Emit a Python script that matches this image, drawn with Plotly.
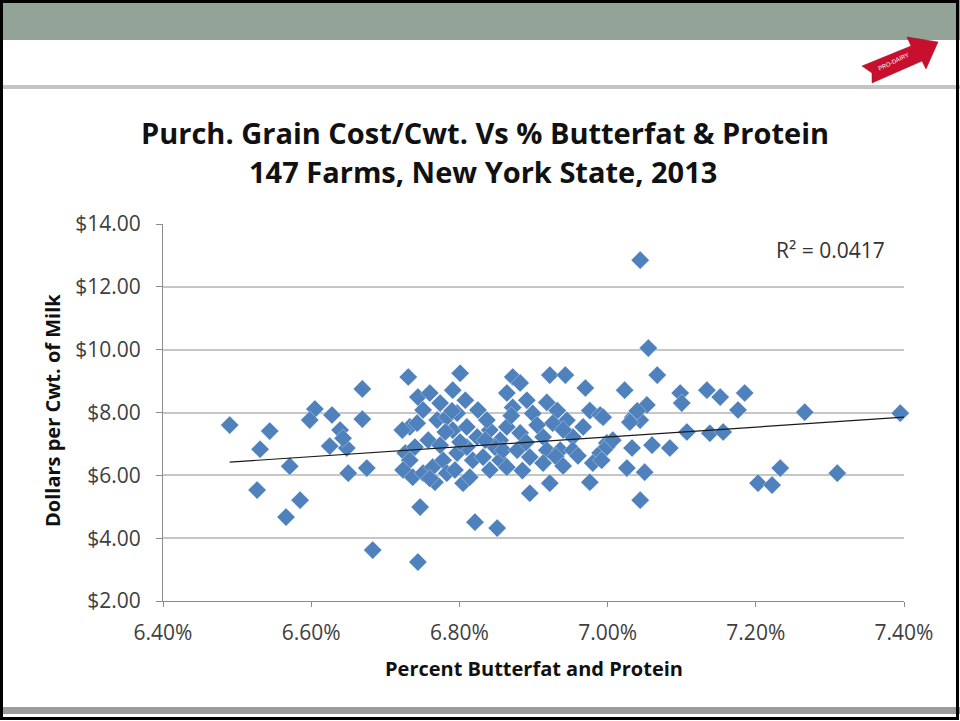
import plotly.graph_objects as go

# ---------------- data ----------------
butterfat_protein_pct = [
    # below 6.72 %
    6.490, 6.544, 6.531, 6.571, 6.527, 6.585, 6.566, 6.605, 6.598, 6.628,
    6.639, 6.625, 6.648, 6.643, 6.650, 6.675, 6.669, 6.669, 6.683,
    # 6.72 - 6.86 %
    6.731, 6.801, 6.791, 6.744, 6.760, 6.774, 6.751, 6.733, 6.723, 6.743,
    6.770, 6.783, 6.797, 6.791, 6.810, 6.824, 6.841, 6.855, 6.727, 6.733,
    6.724, 6.737, 6.751, 6.764, 6.778, 6.783, 6.797, 6.810, 6.818, 6.832,
    6.841, 6.805, 6.747, 6.744, 6.821, 6.851,
    6.758, 6.774, 6.740, 6.808, 6.825, 6.837, 6.794, 6.767, 6.814, 6.855,
    6.848, 6.835, 6.781, 6.801, 6.760, 6.790,
    # 6.86 - 7.00 %
    6.872, 6.882, 6.922, 6.943, 6.970, 6.864, 6.891, 6.918, 6.872, 6.899,
    6.932, 6.945, 6.926, 6.976, 6.990, 6.967, 6.864, 6.882, 6.913, 6.953,
    6.859, 6.878, 6.895, 6.918, 6.936, 6.953, 6.864, 6.913, 6.990, 6.980,
    6.999, 6.895, 6.922, 6.976,
    6.905, 6.940, 6.870, 6.890, 6.930, 6.960, 6.885, 6.940,
    # 7.00 - 7.10 %
    7.044, 7.055, 7.067, 7.023, 7.098, 7.100, 6.994, 7.034, 7.053, 7.044,
    7.030, 7.107, 6.999, 7.007, 7.033, 7.060, 7.084, 6.992, 7.026, 7.050,
    7.044, 7.040,
    # above 7.10 %
    7.134, 7.152, 7.185, 7.176, 7.266, 7.395, 7.138, 7.156, 7.233, 7.203,
    7.222, 7.310,
]

grain_cost_per_cwt = [
    7.60, 7.41, 6.83, 6.29, 5.53, 5.21, 4.67, 8.11, 7.76, 7.92,
    7.44, 6.93, 6.87, 7.18, 6.07, 6.23, 8.75, 7.79, 3.62,
    9.13, 9.25, 8.71, 8.49, 8.62, 8.30, 8.08, 7.54, 7.44, 7.66,
    7.76, 7.85, 7.98, 7.44, 7.54, 7.22, 7.44, 7.12, 6.71, 6.48,
    6.17, 5.94, 6.07, 6.26, 6.48, 6.07, 6.71, 6.90, 6.48, 6.58,
    6.17, 5.75, 4.99, 3.24, 4.51, 4.32,
    7.12, 6.96, 6.90, 8.39, 8.08, 7.76, 6.17, 5.78, 5.94, 6.48,
    6.90, 7.12, 7.38, 7.06, 5.90, 8.05,
    9.13, 8.94, 9.19, 9.19, 8.78, 8.62, 8.39, 8.32, 8.16, 7.97,
    8.06, 7.75, 7.66, 8.06, 7.92, 7.54, 7.54, 7.35, 7.22, 7.22,
    6.80, 6.80, 6.58, 6.80, 6.80, 6.80, 6.26, 6.39, 6.71, 6.39,
    7.03, 5.43, 5.75, 5.78,
    7.60, 7.45, 7.90, 7.05, 6.60, 6.62, 6.15, 6.30,
    12.85, 10.05, 9.19, 8.71, 8.62, 8.30, 7.85, 7.85, 8.24, 7.76,
    7.69, 7.38, 6.90, 7.12, 6.87, 6.96, 6.87, 6.48, 6.23, 6.10,
    5.21, 8.05,
    8.71, 8.49, 8.62, 8.08, 8.01, 7.98, 7.34, 7.38, 6.23, 5.75,
    5.69, 6.07,
]

# linear trend line end points as drawn in the reference
trend_x = [6.49, 7.40]
trend_y = [6.42, 7.85]

x_tick_values = [6.40, 6.60, 6.80, 7.00, 7.20, 7.40]
x_tick_labels = ["6.40%", "6.60%", "6.80%", "7.00%", "7.20%", "7.40%"]
y_tick_values = [2, 4, 6, 8, 10, 12, 14]
y_tick_labels = ["$2.00", "$4.00", "$6.00", "$8.00", "$10.00", "$12.00", "$14.00"]

title_lines = ["Purch. Grain Cost/Cwt. Vs % Butterfat & Protein",
               "147 Farms, New York State, 2013"]
x_title = "Percent Butterfat and Protein"
y_title = "Dollars per Cwt. of Milk"
r2_text = "R² = 0.0417"

# ---------------- layout helpers (pixel -> paper) ----------------
W, H = 960, 721
PL, PR, PT, PB = 163, 904, 224, 601
FONT = "Open Sans"


def px(x):
    return (x - PL) / (PR - PL)


def py(y):
    return (PB - y) / (PB - PT)


fig = go.Figure()

fig.add_trace(go.Scatter(
    x=butterfat_protein_pct, y=grain_cost_per_cwt, mode="markers",
    marker=dict(symbol="diamond", size=14, color="#4F81BD",
                line=dict(width=0.6, color="rgba(255,255,255,0.55)")),
    cliponaxis=False, showlegend=False, hoverinfo="x+y"))

fig.add_trace(go.Scatter(
    x=trend_x, y=trend_y, mode="lines",
    line=dict(color="#1a1a1a", width=1.2),
    cliponaxis=False, showlegend=False, hoverinfo="skip"))

shapes = []
# top grey-green band
shapes.append(dict(type="rect", xref="paper", yref="paper",
                   x0=px(0), x1=px(W), y0=py(0), y1=py(40),
                   fillcolor="#93A398", line=dict(width=0), layer="below"))
# thin grey rule under the logo
shapes.append(dict(type="rect", xref="paper", yref="paper",
                   x0=px(3), x1=px(W), y0=py(85), y1=py(89),
                   fillcolor="#C4C4C4", line=dict(width=0), layer="below"))
# bottom grey band
shapes.append(dict(type="rect", xref="paper", yref="paper",
                   x0=px(3), x1=px(W), y0=py(707), y1=py(714),
                   fillcolor="#9C9C9C", line=dict(width=0), layer="below"))
# black frame
shapes.append(dict(type="rect", xref="paper", yref="paper",
                   x0=px(1.5), x1=px(957.5), y0=py(1.5), y1=py(718.5),
                   fillcolor="rgba(0,0,0,0)", line=dict(width=3, color="#000000"),
                   layer="above"))

# PRO-DAIRY arrow logo (thick ribbon arrow pointing up-right)
arrow_pts = [(862.0, 66.0), (911.0, 46.0), (907.0, 37.0), (938.0, 42.0),
             (926.0, 69.0), (922.0, 61.0), (872.0, 83.0), (872.0, 73.0)]
path = "M " + " L ".join(f"{px(a):.5f},{py(b):.5f}" for a, b in arrow_pts) + " Z"
shapes.append(dict(type="path", xref="paper", yref="paper", path=path,
                   fillcolor="#C8102E", line=dict(width=0.5, color="#8E0A20")))

annotations = [
    dict(text=title_lines[0], x=px(485), y=py(132), xref="paper", yref="paper",
         showarrow=False, xanchor="center", yanchor="middle",
         font=dict(family=FONT, size=29, color="#111111", weight="bold")),
    dict(text=title_lines[1], x=px(483), y=py(172), xref="paper", yref="paper",
         showarrow=False, xanchor="center", yanchor="middle",
         font=dict(family=FONT, size=29, color="#111111", weight="bold")),
    dict(text=x_title, x=px(534), y=py(668), xref="paper", yref="paper",
         showarrow=False, xanchor="center", yanchor="middle",
         font=dict(family=FONT, size=20, color="#111111", weight="bold")),
    dict(text=y_title, x=px(52), y=py(411), xref="paper", yref="paper",
         showarrow=False, xanchor="center", yanchor="middle", textangle=-90,
         font=dict(family=FONT, size=20, color="#111111", weight="bold")),
    dict(text=r2_text, x=px(830), y=py(250), xref="paper", yref="paper",
         showarrow=False, xanchor="center", yanchor="middle",
         font=dict(family=FONT, size=21, color="#333333")),
    dict(text="PRO-DAIRY", x=px(893), y=py(62), xref="paper", yref="paper",
         showarrow=False, xanchor="center", yanchor="middle", textangle=-26,
         font=dict(family="Liberation Sans", size=6, color="#FFFFFF")),
]

fig.update_layout(
    width=W, height=H,
    margin=dict(l=PL, r=W - PR, t=PT, b=H - PB, pad=0),
    paper_bgcolor="#FFFFFF", plot_bgcolor="#FFFFFF",
    shapes=shapes, annotations=annotations,
    showlegend=False,
    xaxis=dict(range=[6.40, 7.40], tickvals=x_tick_values, ticktext=x_tick_labels,
               showgrid=False, zeroline=False,
               showline=True, linecolor="#8C8C8C", linewidth=1,
               ticks="outside", ticklen=5, tickcolor="#8C8C8C",
               ticklabelstandoff=8,
               tickfont=dict(family=FONT, size=21, color="#404040")),
    yaxis=dict(range=[2, 14], tickvals=y_tick_values, ticktext=y_tick_labels,
               showgrid=True, gridcolor="#C6C6C6", gridwidth=1.5,
               zeroline=False,
               showline=True, linecolor="#8C8C8C", linewidth=1,
               ticks="outside", ticklen=6, tickcolor="#8C8C8C",
               ticklabelstandoff=11,
               tickfont=dict(family=FONT, size=21, color="#404040")),
)

fig.write_html("out.html", post_script="document.body.style.margin='0';",
               config={"displayModeBar": False})
